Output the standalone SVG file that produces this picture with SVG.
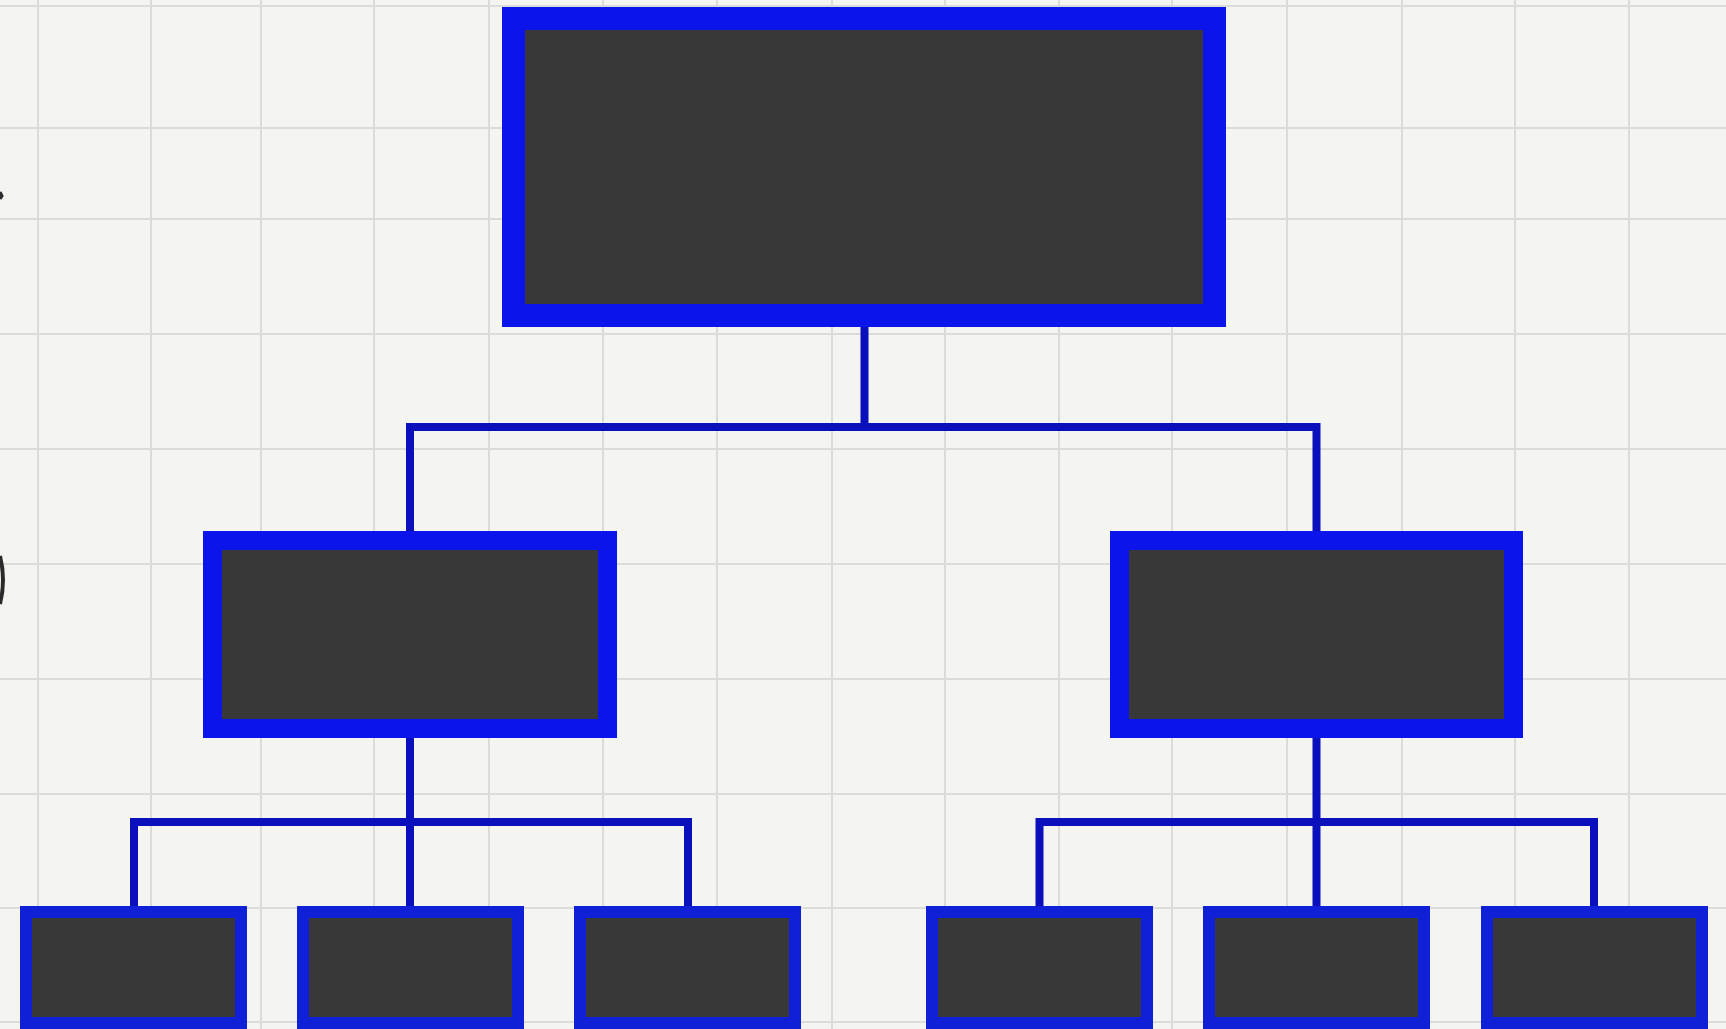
<svg xmlns="http://www.w3.org/2000/svg" width="1726" height="1029" viewBox="0 0 1726 1029">
  <style>
    .grid line { stroke: #dbdbd7; stroke-width: 2; }
    .box { fill: #383838; stroke: #0b14ea; stroke-linejoin: miter; }
    .top { stroke-width: 23; }
    .mid { stroke-width: 19; }
    .leaf { stroke-width: 12; stroke: #1020d6; }
    .conn { fill: none; stroke: #0a10bc; stroke-width: 8; stroke-linejoin: miter; stroke-linecap: butt; }
  </style>
  <rect x="0" y="0" width="1726" height="1029" fill="#f4f4f1"/>
  <g class="grid">
    <line x1="38" y1="0" x2="38" y2="1029"/>
    <line x1="151" y1="0" x2="151" y2="1029"/>
    <line x1="261" y1="0" x2="261" y2="1029"/>
    <line x1="374" y1="0" x2="374" y2="1029"/>
    <line x1="489" y1="0" x2="489" y2="1029"/>
    <line x1="603" y1="0" x2="603" y2="1029"/>
    <line x1="717" y1="0" x2="717" y2="1029"/>
    <line x1="832" y1="0" x2="832" y2="1029"/>
    <line x1="945" y1="0" x2="945" y2="1029"/>
    <line x1="1059" y1="0" x2="1059" y2="1029"/>
    <line x1="1172" y1="0" x2="1172" y2="1029"/>
    <line x1="1287" y1="0" x2="1287" y2="1029"/>
    <line x1="1402" y1="0" x2="1402" y2="1029"/>
    <line x1="1515" y1="0" x2="1515" y2="1029"/>
    <line x1="1629" y1="0" x2="1629" y2="1029"/>
    <line x1="0" y1="6" x2="1726" y2="6"/>
    <line x1="0" y1="128" x2="1726" y2="128"/>
    <line x1="0" y1="219" x2="1726" y2="219"/>
    <line x1="0" y1="334" x2="1726" y2="334"/>
    <line x1="0" y1="449" x2="1726" y2="449"/>
    <line x1="0" y1="564" x2="1726" y2="564"/>
    <line x1="0" y1="679" x2="1726" y2="679"/>
    <line x1="0" y1="794" x2="1726" y2="794"/>
    <line x1="0" y1="908" x2="1726" y2="908"/>
    <line x1="0" y1="1022" x2="1726" y2="1022"/>
  </g>
  <g id="edge-marks" fill="none" stroke="#2a2a2a">
    <path d="M0 192 L2 196 L0 199" stroke-width="3"/>
    <path d="M0 556 Q6 580 0 604" stroke-width="4"/>
  </g>
  <g id="connectors" class="conn">
    <path d="M864.5 327 V427"/>
    <path d="M410 531 V427 H1316.5 V531"/>
    <path d="M410 738 V906"/>
    <path d="M134 906 V822 H688 V906"/>
    <path d="M1316.5 738 V906"/>
    <path d="M1039.5 906 V822 H1594 V906"/>
  </g>
  <g id="node-root"><rect class="box top" x="513.5" y="18.5" width="701" height="297"/></g>
  <g id="node-mid-left"><rect class="box mid" x="212.5" y="540.5" width="395" height="188"/></g>
  <g id="node-mid-right"><rect class="box mid" x="1119.5" y="540.5" width="394" height="188"/></g>
  <g id="node-leaf-1"><rect class="box leaf" x="26" y="912" width="215" height="111"/></g>
  <g id="node-leaf-2"><rect class="box leaf" x="303" y="912" width="215" height="111"/></g>
  <g id="node-leaf-3"><rect class="box leaf" x="580" y="912" width="215" height="111"/></g>
  <g id="node-leaf-4"><rect class="box leaf" x="932" y="912" width="215" height="111"/></g>
  <g id="node-leaf-5"><rect class="box leaf" x="1209" y="912" width="215" height="111"/></g>
  <g id="node-leaf-6"><rect class="box leaf" x="1487" y="912" width="215" height="111"/></g>
</svg>
